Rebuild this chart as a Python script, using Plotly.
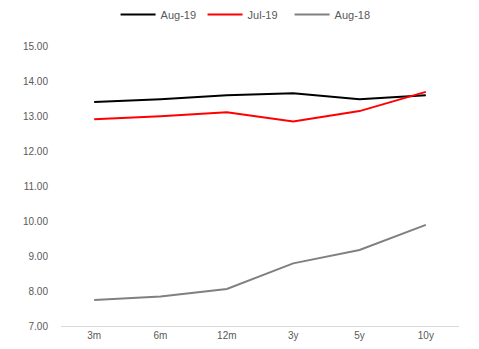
import plotly.graph_objects as go

categories = ["3m", "6m", "12m", "3y", "5y", "10y"]
aug19 = [13.40, 13.48, 13.59, 13.65, 13.48, 13.59]
jul19 = [12.91, 12.99, 13.11, 12.84, 13.14, 13.69]
aug18 = [7.74, 7.84, 8.06, 8.79, 9.17, 9.89]

series = [("Aug-19", aug19, "#000000"), ("Jul-19", jul19, "#ff0000"), ("Aug-18", aug18, "#808080")]

fig = go.Figure()
for name, vals, col in series:
    fig.add_trace(go.Scatter(x=categories, y=vals, name=name, mode="lines",
                             line=dict(color=col, width=2)))

font = "Liberation Sans Narrow, Arial Narrow, Liberation Sans, sans-serif"
fig.update_layout(
    width=479, height=349,
    margin=dict(l=61, r=20, t=46, b=23, autoexpand=False),
    paper_bgcolor="white", plot_bgcolor="white",
    font=dict(family=font, size=10, color="#595959"),
    showlegend=True,
    legend=dict(orientation="h", x=0.465, xanchor="center", y=1.0, yanchor="top",
                yref="container", font=dict(size=11, color="#595959"),
                traceorder="normal", entrywidth=37, itemwidth=35),
    xaxis=dict(type="category", range=[-0.5, 5.5], showgrid=False, showline=True,
               linecolor="#d9d9d9", linewidth=1, ticks="", automargin=False,
               tickfont=dict(size=10, color="#595959")),
    yaxis=dict(range=[7, 15], dtick=1, tickformat=".2f", showgrid=False, showline=False,
               zeroline=False, ticks="", automargin=False, ticklabelstandoff=12,
               tickfont=dict(size=10, color="#595959")),
)
fig.write_html("out.html")
